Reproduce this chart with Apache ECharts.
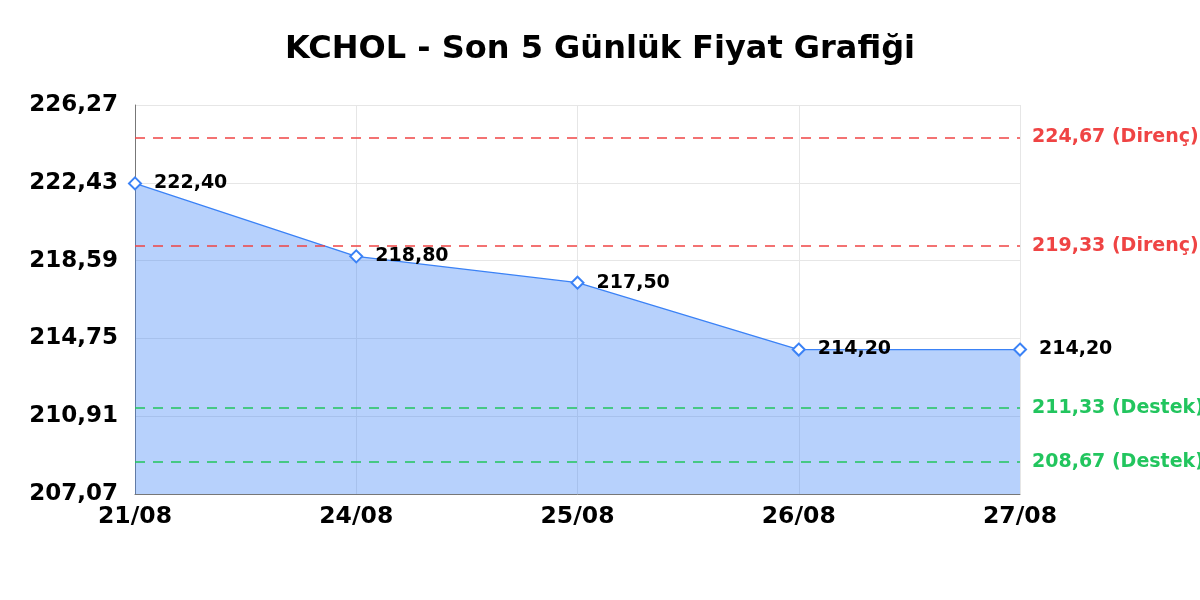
<!DOCTYPE html>
<html><head><meta charset="utf-8">
<script src="https://cdn.jsdelivr.net/npm/echarts@6/dist/echarts.min.js"></script>
<style>html,body{margin:0;padding:0;background:#fff}#c{width:1200px;height:600px}</style>
</head><body><div id="c"></div>
<script>
const title = 'KCHOL - Son 5 Günlük Fiyat Grafiği';
const categories = ['21/08', '24/08', '25/08', '26/08', '27/08'];
const prices = [222.40, 218.80, 217.50, 214.20, 214.20];
const resistance = [224.67, 219.33];
const support = [211.33, 208.67];
const yMin = 207.07, yMax = 226.27, yInterval = 3.84;

const fmt = v => v.toFixed(2).replace('.', ',');
const font = 'DejaVu Sans';

const markData = [];
resistance.forEach(v => markData.push({yAxis: v, lineStyle: {color: '#ef4444'}, label: {color: '#ef4444', formatter: fmt(v) + ' (Direnç)'}}));
support.forEach(v => markData.push({yAxis: v, lineStyle: {color: '#22c55e'}, label: {color: '#22c55e', formatter: fmt(v) + ' (Destek)'}}));

const chart = echarts.init(document.getElementById('c'));
chart.setOption({
  animation: false,
  title: {text: title, left: 'center', top: 29, textStyle: {fontFamily: font, fontSize: 32, fontWeight: 'bold', color: '#000'}},
  grid: {left: 135, right: 180, top: 105, bottom: 106},
  xAxis: {
    type: 'category', data: categories, boundaryGap: false,
    axisLine: {lineStyle: {color: '#777'}}, axisTick: {show: false},
    axisLabel: {fontFamily: font, fontSize: 23.5, fontWeight: 'bold', color: '#000', margin: 11},
    splitLine: {show: true, lineStyle: {color: '#e6e6e6'}}
  },
  yAxis: {
    type: 'value', min: yMin, max: yMax, interval: yInterval,
    axisLine: {show: true, lineStyle: {color: '#777'}}, axisTick: {show: false},
    axisLabel: {fontFamily: font, fontSize: 23, fontWeight: 'bold', color: '#000', margin: 17, formatter: v => fmt(v)},
    splitLine: {show: true, lineStyle: {color: '#e6e6e6'}}
  },
  series: [{
    type: 'line', data: prices,
    symbol: 'emptyDiamond', symbolSize: 12,
    itemStyle: {color: '#3b82f6', borderWidth: 2},
    lineStyle: {color: '#3b82f6', width: 1.3},
    areaStyle: {color: '#3b82f6', opacity: 0.37},
    label: {show: true, position: 'right', distance: 12, fontFamily: font, fontSize: 19, fontWeight: 'bold', color: '#000', formatter: p => fmt(p.value)},
    markLine: {
      silent: true, symbol: 'none',
      lineStyle: {type: [10, 8], width: 1.5},
      label: {position: 'end', distance: 12, fontFamily: font, fontSize: 19, fontWeight: 'bold'},
      data: markData
    }
  }]
});
</script></body></html>
